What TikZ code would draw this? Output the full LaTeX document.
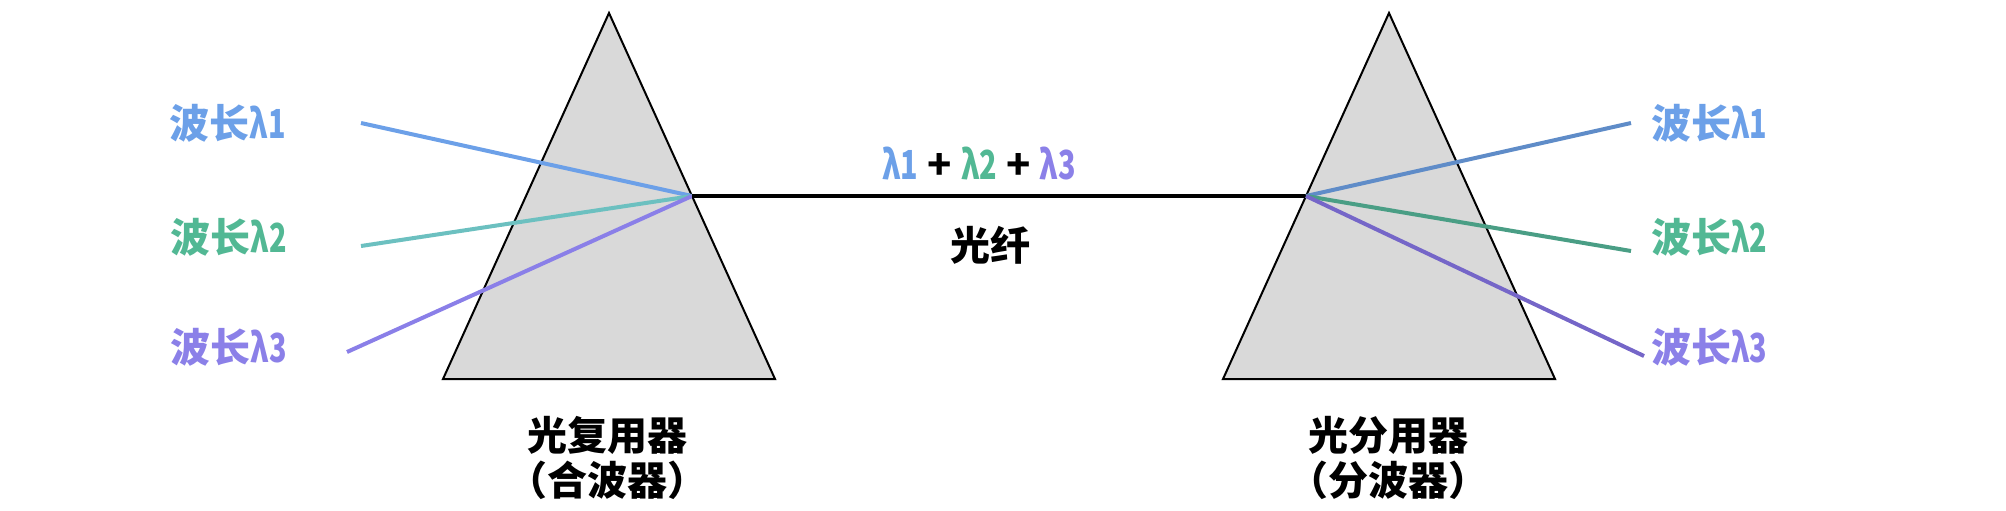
\documentclass[tikz,border=0pt]{standalone}
\usepackage{fontspec}
\usepackage{tikz}
\usetikzlibrary{positioning,calc}
\usepackage{xcolor}
\newfontfamily\cjk{Noto Sans CJK SC}
\newfontfamily\cjknarrow{Noto Sans CJK SC}[FakeStretch=0.72]
\newcommand{\lam}[1]{{\cjknarrow\bfseries λ#1}}
\definecolor{prismgray}{HTML}{D9D9D9}
\definecolor{waveone}{HTML}{6CA0E8}
\definecolor{wavetwo}{HTML}{52B894}
\definecolor{wavethree}{HTML}{8B80E8}
\definecolor{rayone}{HTML}{6CA0E8}
\definecolor{raytwo}{HTML}{6CC0C0}
\definecolor{raythree}{HTML}{8A7FE8}
\definecolor{outone}{HTML}{5F8CC8}
\definecolor{outtwo}{HTML}{4A9E85}
\definecolor{outthree}{HTML}{7566C8}
\tikzset{
  prism/.style={draw=black, line width=1pt, fill=prismgray},
  ray/.style={line width=2pt},
  fibre/.style={draw=black, line width=2pt},
  wavelabel/.style={font=\cjk\bfseries\fontsize{20}{24}\selectfont, inner sep=0pt},
  devlabel/.style={font=\cjk\bfseries\fontsize{20}{22.5}\selectfont, align=center, inner sep=0pt}
}

\begin{document}
\begin{tikzpicture}[x=0.5pt, y=-0.5pt]
  \useasboundingbox (0,0) rectangle (2006,510);
  % prisms
  \coordinate (mtop) at (609,13);
  \coordinate (mleft) at (443,379);
  \coordinate (mright) at (775,379);
  \coordinate (dtop) at (1389,13);
  \coordinate (dleft) at (1223,379);
  \coordinate (dright) at (1555,379);
  \draw[prism] (mtop) -- (mright) -- (mleft) -- cycle;
  \draw[prism] (dtop) -- (dright) -- (dleft) -- cycle;
  \coordinate (mux) at ($(mtop)!0.5!(mright)$);
  \coordinate (demux) at ($(dtop)!0.5!(dleft)$);

  % wavelength labels
  \node[wavelabel, text=waveone, anchor=east] (in1) at (286,123) {波长\lam{1}};
  \node[wavelabel, text=wavetwo, anchor=east] (in2) at (287,237) {波长\lam{2}};
  \node[wavelabel, text=wavethree, anchor=east] (in3) at (287,347) {波长\lam{3}};
  \node[wavelabel, text=waveone, anchor=west] (out1) at (1651,123) {波长\lam{1}};
  \node[wavelabel, text=wavetwo, anchor=west] (out2) at (1651,237) {波长\lam{2}};
  \node[wavelabel, text=wavethree, anchor=west] (out3) at (1651,347) {波长\lam{3}};

  \coordinate (s1) at (361,123);
  \coordinate (s2) at (361,246);
  \coordinate (s3) at (347,352);
  \coordinate (e1) at (1631,123);
  \coordinate (e2) at (1631,251);
  \coordinate (e3) at (1644,356);

  % rays
  \draw[ray, rayone] (s1) -- (mux);
  \draw[ray, raytwo] (s2) -- (mux);
  \draw[ray, raythree] (s3) -- (mux);
  \draw[fibre] (mux) -- (demux);
  \draw[ray, outone] (demux) -- (e1);
  \draw[ray, outtwo] (demux) -- (e2);
  \draw[ray, outthree] (demux) -- (e3);

  % fibre labels
  \node[wavelabel] (sum) at (979,164) {{\color{waveone}\lam{1}} + {\color{wavetwo}\lam{2}} + {\color{wavethree}\lam{3}}};
  \node[wavelabel] (fibrename) at (990,245) {光纤};

  % device labels
  \node[devlabel] (muxname) at (607,458) {光复用器\\（合波器）};
  \node[devlabel] (demuxname) at (1388,458) {光分用器\\（分波器）};
\end{tikzpicture}
\end{document}
